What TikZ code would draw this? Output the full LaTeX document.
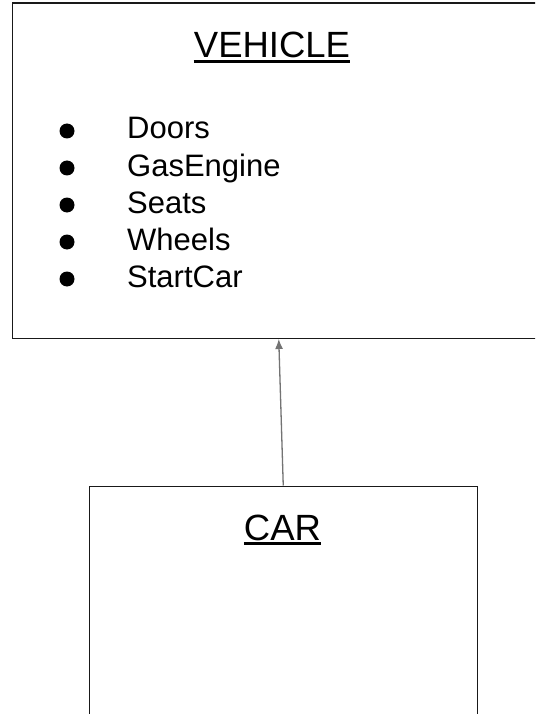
\documentclass[tikz,border=0pt]{standalone}
\usepackage{fontspec}
\setmainfont{Liberation Sans}
\tikzset{
  box/.style={draw=black!90, line width=1.5pt, inner sep=0pt, anchor=north west},
  title/.style={inner sep=0pt, anchor=base, font=\fontsize{36.5}{40}\selectfont},
  item/.style={inner sep=0pt, anchor=base west, font=\fontsize{31}{34}\selectfont},
  bul/.style={circle, fill=black, inner sep=0pt, minimum size=15pt},
  uline/.style={line width=2.6pt},
  arr/.style={draw=black!55, line width=1.3pt, -{Latex[length=10pt,width=8pt]}},
}
\usetikzlibrary{arrows.meta}
\begin{document}
\begin{tikzpicture}[x=1pt,y=-1pt]
\clip (0,0) rectangle (535,714);
\fill[white] (0,0) rectangle (535,714);
\node[box, minimum width=533pt, minimum height=335pt] (veh) at (11.5,2.5) {};
\node[box, minimum width=388pt, minimum height=300pt] (car) at (88.5,485.5) {};
\node[title] (vt) at (272,58) {VEHICLE};
\draw[uline] ([yshift=-3.6pt]vt.base west) -- ([yshift=-3.6pt]vt.base east);
\node[title] (ct) at (282.5,540) {CAR};
\draw[uline] ([yshift=-3.6pt]ct.base west) -- ([yshift=-3.6pt]ct.base east);
\node[item] (i1) at (127,139) {Doors};
\node[item] (i2) at (127,176) {GasEngine};
\node[item] (i3) at (127,213) {Seats};
\node[item] (i4) at (127,250) {Wheels};
\node[item] (i5) at (127,287) {StartCar};
\node[bul] (b1) at (67,131) {};
\node[bul] (b2) at (67,168) {};
\node[bul] (b3) at (67,205) {};
\node[bul] (b4) at (67,242) {};
\node[bul] (b5) at (67,279) {};
\draw[arr] (car.north) -- (veh.south);
\end{tikzpicture}
\end{document}
